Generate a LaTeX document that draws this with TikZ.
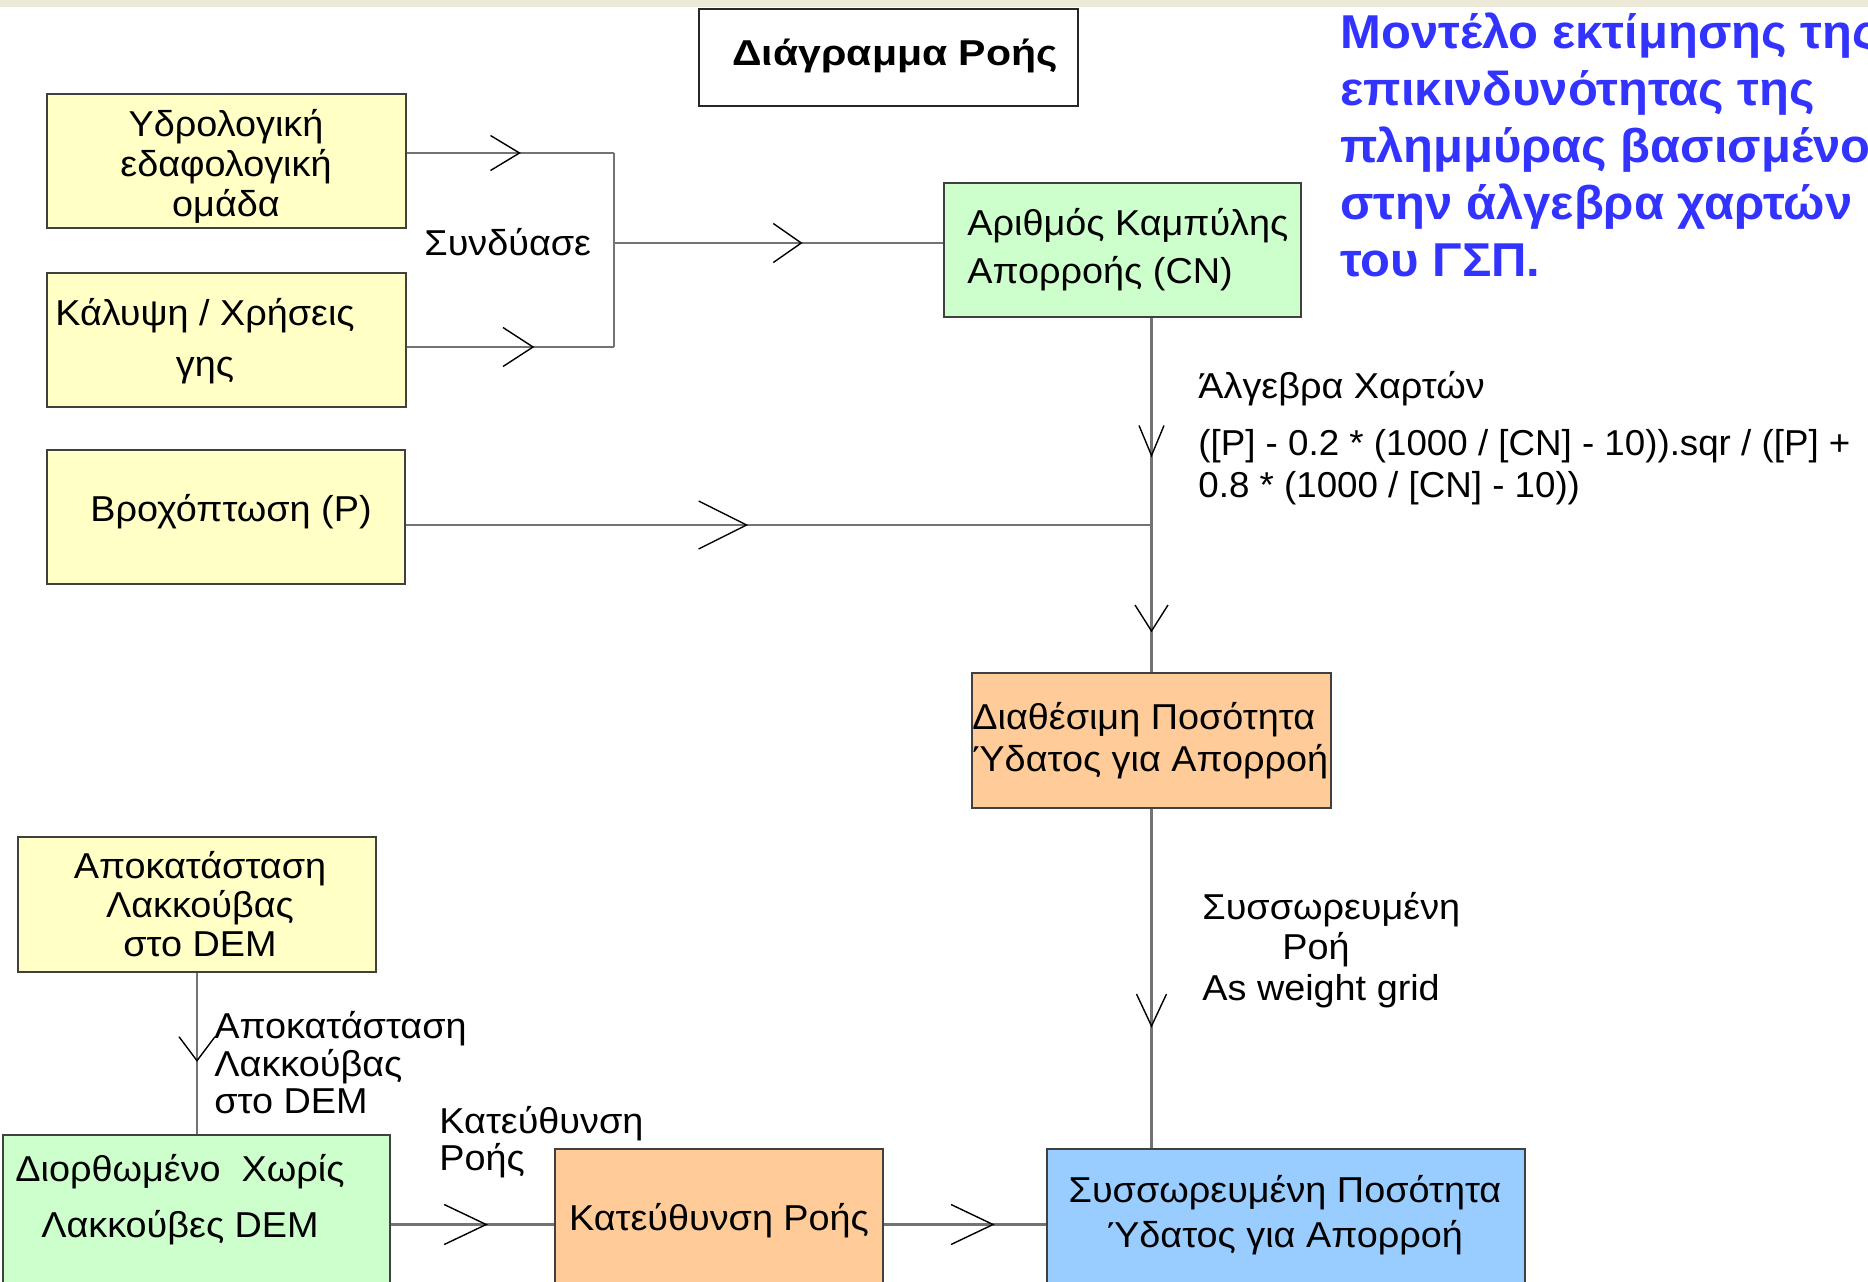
\documentclass[tikz,border=0pt]{standalone}
\usepackage{fontspec}
\setmainfont[FakeStretch=1.05]{Liberation Sans}
\newfontfamily\titlefont[FakeStretch=1.14]{Liberation Sans}
\newfontfamily\headfont[FakeStretch=1.03]{Liberation Sans}
\newfontfamily\formulafont[FakeStretch=1.02]{Liberation Sans}
\usetikzlibrary{arrows.meta,decorations.markings}

\definecolor{paleyellow}{RGB}{255,255,198}
\definecolor{palegreen}{RGB}{204,255,204}
\definecolor{paleorange}{RGB}{255,204,153}
\definecolor{paleblue}{RGB}{153,204,255}
\definecolor{headblue}{RGB}{51,51,255}
\definecolor{barbeige}{RGB}{236,233,216}

\tikzset{
  box/.style={draw=black!75, line width=1pt, inner sep=0pt},
  boxtext/.style={font=\fontsize{18}{18.75}\selectfont, inner sep=0pt},
  link/.style={draw=black!55, line width=1.2pt},
  midtip/.style n args={3}{postaction={decorate, decoration={markings,
      mark=at position #1 with {\arrow[black]{Straight Barb[length=#2, width=#3, line width=0.7pt]}}}}}
}

\begin{document}
\begin{tikzpicture}[x=0.5pt, y=-0.5pt]
\useasboundingbox (0,0) rectangle (1868,1281);
% Grey strip on top of the page
\fill[barbeige] (0,0) rectangle (1868,7);

% Title box and heading
\node[box, draw=black!85, fill=white, minimum width=189.5pt, minimum height=48.5pt] (title) at (888.5,57.5) {};
\node[anchor=base west, inner sep=0pt, font=\titlefont\bfseries\fontsize{18}{18.75}\selectfont] (title-txt) at (732,65) {Διάγραμμα Ροής};
\node[anchor=north west, align=left, inner sep=0pt, text=headblue, font=\headfont\bfseries\fontsize{23.75}{28.5}\selectfont] (heading) at (1340,12)
  {Μοντέλο εκτίμησης της\\επικινδυνότητας της\\πλημμύρας βασισμένο\\στην άλγεβρα χαρτών\\του ΓΣΠ.};

% Draw the input boxes
\node[box, fill=paleyellow, minimum width=179.5pt, minimum height=67pt] (soil) at (226.5,161) {};
\node[box, fill=paleyellow, minimum width=179.5pt, minimum height=67pt] (cover) at (226.5,340) {};
\node[box, fill=paleyellow, minimum width=179pt, minimum height=67pt] (rain) at (226,517) {};
\node[box, fill=paleyellow, minimum width=179pt, minimum height=67.5pt] (pit) at (197,904.5) {};
% Draw the result boxes
\node[box, fill=palegreen, minimum width=178.5pt, minimum height=67pt] (cn) at (1122.5,250) {};
\node[box, fill=paleorange, minimum width=179.5pt, minimum height=67.5pt] (avail) at (1151.5,740.5) {};
\node[box, fill=palegreen, minimum width=193.5pt, minimum height=89.5pt] (filled) at (196.5,1224.5) {};
\node[box, fill=paleorange, minimum width=164pt, minimum height=75.5pt] (dir) at (719,1224.5) {};
\node[box, fill=paleblue, minimum width=239pt, minimum height=75.5pt] (acc) at (1286,1224.5) {};

% Texts inside the boxes
\node[boxtext, align=center, font=\fontsize{18}{20}\selectfont] (soil-txt) at (226,166) {Υδρολογική\\εδαφολογική\\ομάδα};
\node[boxtext, align=center, font=\fontsize{18}{25.5}\selectfont] (cover-txt) at (205,341.5) {Κάλυψη / Χρήσεις\\γης};
\node[boxtext, anchor=base] (rain-txt) at (231,521) {Βροχόπτωση (P)};
\node[boxtext, align=center, font=\fontsize{18}{19.5}\selectfont] (pit-txt) at (200,904) {Αποκατάσταση\\Λακκούβας\\στο DEM};
\node[boxtext, anchor=west, align=left, font=\fontsize{18}{24}\selectfont] (cn-txt) at (967,249.3) {Αριθμός Καμπύλης\\Απορροής (CN)};
\node[boxtext, anchor=west, align=left, font=\fontsize{18}{21}\selectfont] (avail-txt) at (972,740.5) {Διαθέσιμη Ποσότητα\\Ύδατος για Απορροή};
\node[boxtext, align=center, font=\fontsize{18}{28}\selectfont] (filled-txt) at (180,1200) {Διορθωμένο \ Χωρίς\\Λακκούβες DEM};
\node[boxtext, anchor=base] (dir-txt) at (719,1230) {Κατεύθυνση Ροής};
\node[boxtext, align=center, font=\fontsize{18}{22.5}\selectfont] (acc-txt) at (1285,1215.5) {Συσσωρευμένη Ποσότητα\\Ύδατος για Απορροή};

% Labels on the connectors
\node[boxtext, anchor=base west] (combine) at (424,255) {Συνδύασε};
\node[boxtext, anchor=base west] (algebra) at (1198,398) {Άλγεβρα Χαρτών};
\node[boxtext, anchor=west, align=left, font=\formulafont\fontsize{18}{21}\selectfont] (formula) at (1198,467)
  {([P] - 0.2 * (1000 / [CN] - 10)).sqr / ([P] +\\0.8 * (1000 / [CN] - 10))};
\node[boxtext, anchor=west, align=left, font=\fontsize{18}{20.25}\selectfont] (weight) at (1202,950)
  {Συσσωρευμένη\\\hspace*{40pt}Ροή\\As weight grid};
\node[boxtext, anchor=west, align=left] (fill-lbl) at (214,1063) {Αποκατάσταση\\Λακκούβας\\στο DEM};
\node[boxtext, anchor=west, align=left, font=\fontsize{18}{18.5}\selectfont] (dir-lbl) at (439,1142) {Κατεύθυνση\\Ροής};

% Joints of the connectors
\coordinate (jtop) at (614,153);
\coordinate (jbot) at (614,347);
\coordinate (jmid) at (614,243);
\coordinate (jrain) at (1151.5,525);

% Draw the connectors
\draw[link, midtip={0.55}{14.5pt}{17.5pt}] (soil.east |- jtop) -- (jtop);
\draw[link, midtip={0.615}{15pt}{19.5pt}] (cover.east |- jbot) -- (jbot);
\draw[link] (jtop) -- (jbot);
\draw[link, midtip={0.573}{14pt}{19.5pt}] (jmid) -- (cn.west |- jmid);
\draw[link, midtip={0.459}{24pt}{24pt}] (rain.east |- jrain) -- (jrain);
\draw[link, midtip={0.673}{15pt}{12.5pt}] (cn.south -| jrain) -- (jrain);
\draw[link, midtip={0.73}{13pt}{16.5pt}] (jrain) -- (avail.north);
\draw[link, midtip={0.645}{16pt}{15pt}] (avail.south) -- (acc.north -| avail.south);
\draw[link, midtip={0.552}{12pt}{18pt}] (pit.south) -- (filled.north -| pit.south);
\draw[link, midtip={0.594}{21pt}{20pt}] (filled.east) -- (dir.west);
\draw[link, midtip={0.683}{21pt}{20pt}] (dir.east) -- (acc.west);

\end{tikzpicture}
\end{document}
